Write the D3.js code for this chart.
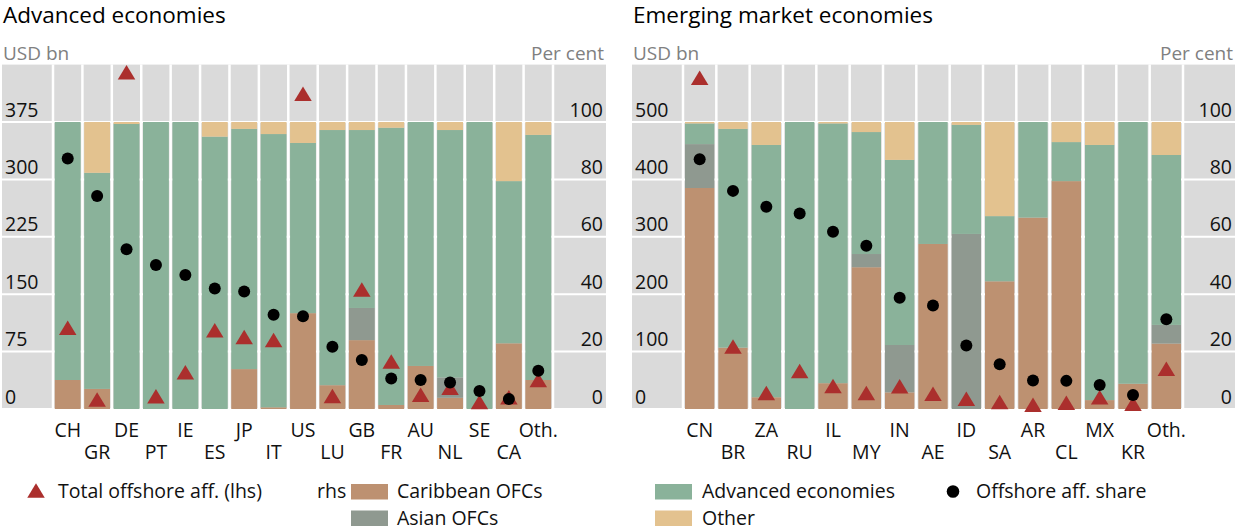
<!DOCTYPE html>
<html><head><meta charset="utf-8">
<script src="https://cdn.jsdelivr.net/npm/d3@7"></script>
<style>
body{margin:0;background:#fff}
text{font-family:"Open Sans","Noto Sans",sans-serif}
</style>
</head><body>
<svg id="chart" width="1236" height="530"></svg>
<script>
// ---------- Advanced economies ----------
const aeCategories = ["CH","GR","DE","PT","IE","ES","JP","IT","US","LU","GB","FR","AU","NL","SE","CA","Oth."];
const aeCaribbean  = [10.1, 7.0, 0, 0, 0, 0, 13.9, 0.6, 33.4, 8.3, 24.0, 1.4, 15.0, 3.9, 0, 22.9, 10.1];
const aeAsian      = [0, 0, 0, 0, 0, 0, 0, 0, 0, 0, 11.2, 0, 0, 7.1, 0, 0, 0];
const aeAdvanced   = [89.9, 75.3, 99.3, 100, 100, 94.9, 83.7, 95.2, 59.3, 88.9, 62.0, 96.6, 85.0, 86.2, 100, 56.5, 85.4];
const aeOther      = [0, 17.7, 0.7, 0, 0, 5.1, 2.4, 4.2, 7.3, 2.8, 2.8, 2.0, 0, 2.8, 0, 20.6, 4.5];
const aeShare      = [87.3, 74.2, 55.7, 50.2, 46.7, 42.0, 40.9, 32.8, 32.3, 21.7, 17.1, 10.6, 10.1, 9.2, 6.3, 3.5, 13.3];
const aeTotal      = [106, 12.4, 440, 16.7, 48, 103, 94, 90, 412, 17, 156, 62, 18.7, 27.8, 9, 15.3, 37.9];
const aeLhsTicks   = [0, 75, 150, 225, 300, 375];

// ---------- Emerging market economies ----------
const emCategories = ["CN","BR","ZA","RU","IL","MY","IN","AE","ID","SA","AR","CL","MX","KR","Oth."];
const emCaribbean  = [77.0, 21.4, 4.1, 0, 9.0, 49.4, 5.8, 57.5, 0, 44.5, 66.7, 79.4, 3.1, 8.8, 22.8];
const emAsian      = [15.3, 0, 0, 0, 0, 4.6, 16.5, 0, 61.0, 0, 0, 0, 0, 0, 6.5];
const emAdvanced   = [7.2, 76.2, 87.9, 100, 90.5, 42.5, 64.5, 42.5, 38.0, 22.7, 33.3, 13.6, 88.9, 91.2, 59.2];
const emOther      = [0.5, 2.4, 8.0, 0, 0.5, 3.5, 13.2, 0, 1.0, 32.8, 0, 7.0, 8.0, 0, 11.5];
const emShare      = [87.0, 76.0, 70.5, 68.1, 61.8, 56.9, 38.8, 36.1, 22.1, 15.6, 9.9, 9.8, 8.4, 4.9, 31.3];
const emTotal      = [577, 109, 28, 66, 40, 28, 39.5, 26.5, 17.7, 12, 7.5, 11, 20.4, 9.2, 70];
const emLhsTicks   = [0, 100, 200, 300, 400, 500];

const rhsTicks = [0, 20, 40, 60, 80, 100];
const stackKeys = ["caribbean","asian","advanced","other"];
const colors = {caribbean:"#bd9171", asian:"#8f9990", advanced:"#8ab29a", other:"#e3c28f",
                tri:"#ab2f2d", dot:"#000", bg:"#dadada", grid:"#ffffff"};

const svg = d3.select("#chart");
const Y_BOT = 409, PX_PER_PCT = 2.87;
const Y_TOP = Y_BOT - 120 * PX_PER_PCT;

function triPath(cx, cy, w, h) {
  const p = d3.path();
  p.moveTo(cx, cy - h/2); p.lineTo(cx + w/2, cy + h/2); p.lineTo(cx - w/2, cy + h/2); p.closePath();
  return p.toString();
}

function panel(o) {
  const g = svg.append("g");
  const yR = d3.scaleLinear().domain([0, 120]).range([Y_BOT, Y_TOP]);
  const yL = d3.scaleLinear().domain([0, o.lhsMax]).range([Y_BOT, Y_TOP]);
  const x = d3.scaleBand().domain(o.cats).range([o.bx0, o.bx1]).paddingInner(0.12).paddingOuter(0.06);
  const step = x.step();

  const rows = o.cats.map((c, i) => ({cat: c, caribbean: o.car[i], asian: o.asi[i], advanced: o.adv[i], other: o.oth[i],
                                      share: o.share[i], total: o.total[i]}));
  const series = d3.stack().keys(stackKeys)(rows);

  g.append("rect").attr("x", o.x0).attr("y", Y_TOP).attr("width", o.x1 - o.x0).attr("height", Y_BOT - Y_TOP)
    .attr("fill", colors.bg);

  // horizontal gridlines
  g.selectAll(".hg").data(rhsTicks).join("line")
    .attr("x1", o.x0).attr("x2", o.x1).attr("y1", d => yR(d)).attr("y2", d => yR(d))
    .attr("stroke", colors.grid).attr("stroke-width", 2);
  // vertical gridlines at band boundaries
  const bounds = d3.range(o.cats.length + 1).map(k => o.bx0 + k * step);
  g.selectAll(".vg").data(bounds).join("line")
    .attr("x1", d => d).attr("x2", d => d).attr("y1", Y_TOP).attr("y2", Y_BOT)
    .attr("stroke", colors.grid).attr("stroke-width", 2.5);

  // stacked bars
  g.selectAll(".series").data(series).join("g").attr("fill", s => colors[s.key])
    .selectAll("rect").data(s => s).join("rect")
    .attr("x", d => x(d.data.cat)).attr("width", x.bandwidth())
    .attr("y", d => yR(d[1])).attr("height", d => Math.max(0, yR(d[0]) - yR(d[1])));

  // triangles (lhs)
  g.selectAll(".tri").data(rows).join("path")
    .attr("d", d => triPath(x(d.cat) + x.bandwidth()/2, yL(d.total), 17.5, 14.5))
    .attr("fill", colors.tri);
  // dots (rhs)
  g.selectAll(".dot").data(rows).join("circle")
    .attr("cx", d => x(d.cat) + x.bandwidth()/2).attr("cy", d => yR(d.share)).attr("r", 6)
    .attr("fill", colors.dot);

  // left axis labels (lhs)
  const la = g.append("g").attr("transform", `translate(${o.x0 + 3},0)`)
    .call(d3.axisRight(yL).tickValues(o.lhsTicks).tickSize(0).tickPadding(0));
  la.select(".domain").remove();
  la.selectAll("text").attr("dy", -6).attr("x", 0).style("font-size", "19.5px").attr("fill", "#111")
    .style("font-family", '"Open Sans",sans-serif');

  // right axis labels (rhs)
  const ra = g.append("g").attr("transform", `translate(${o.x1 - 3},0)`)
    .call(d3.axisLeft(yR).tickValues(rhsTicks).tickSize(0).tickPadding(0));
  ra.select(".domain").remove();
  ra.selectAll("text").attr("dy", -6).attr("x", 0).style("font-size", "19.5px").attr("fill", "#111")
    .style("font-family", '"Open Sans",sans-serif');

  // category axis
  const xa = g.append("g").attr("transform", `translate(0,${Y_BOT})`)
    .call(d3.axisBottom(x).tickSize(0).tickPadding(0));
  xa.select(".domain").remove();
  xa.selectAll("text").attr("dy", 0).attr("y", (d, i) => i % 2 ? 50 : 28)
    .style("font-size", "19.5px").attr("fill", "#111").style("font-family", '"Open Sans",sans-serif');

  // titles
  g.append("text").attr("x", o.x0 + 1).attr("y", 23).text(o.title)
    .style("font-size", "22.5px").attr("fill", "#000");
  g.append("text").attr("x", o.x0 + 1).attr("y", 60).text("USD bn")
    .style("font-size", "19px").attr("fill", "#808080");
  g.append("text").attr("x", o.x1 - 2).attr("y", 60).attr("text-anchor", "end").text("Per cent")
    .style("font-size", "19px").attr("fill", "#808080");
}

panel({title: "Advanced economies", x0: 2, x1: 606, bx0: 53, bx1: 553, cats: aeCategories,
       car: aeCaribbean, asi: aeAsian, adv: aeAdvanced, oth: aeOther, share: aeShare, total: aeTotal,
       lhsMax: 450, lhsTicks: aeLhsTicks});
panel({title: "Emerging market economies", x0: 632, x1: 1235, bx0: 683, bx1: 1183, cats: emCategories,
       car: emCaribbean, asi: emAsian, adv: emAdvanced, oth: emOther, share: emShare, total: emTotal,
       lhsMax: 600, lhsTicks: emLhsTicks});

// ---------- legend ----------
const lg = svg.append("g").style("font-size", "19.5px").attr("fill", "#111");
lg.append("path").attr("d", triPath(36, 490.5, 17.5, 14.5)).attr("fill", colors.tri);
lg.append("text").attr("x", 58).attr("y", 498).text("Total offshore aff. (lhs)");
lg.append("text").attr("x", 317).attr("y", 498).text("rhs");
const sw = [
  {key: "caribbean", label: "Caribbean OFCs", x: 351, y: 484, tx: 397, ty: 498},
  {key: "asian", label: "Asian OFCs", x: 351, y: 510.5, tx: 397, ty: 524.6},
  {key: "advanced", label: "Advanced economies", x: 655, y: 484, tx: 702, ty: 498},
  {key: "other", label: "Other", x: 655, y: 510.5, tx: 702, ty: 524.6}
];
sw.forEach(s => {
  lg.append("rect").attr("x", s.x).attr("y", s.y).attr("width", 37).attr("height", 15.5).attr("fill", colors[s.key]);
  lg.append("text").attr("x", s.tx).attr("y", s.ty).text(s.label);
});
lg.append("circle").attr("cx", 953).attr("cy", 491.5).attr("r", 6.3).attr("fill", colors.dot);
lg.append("text").attr("x", 976).attr("y", 498).text("Offshore aff. share");
</script>
</body></html>
